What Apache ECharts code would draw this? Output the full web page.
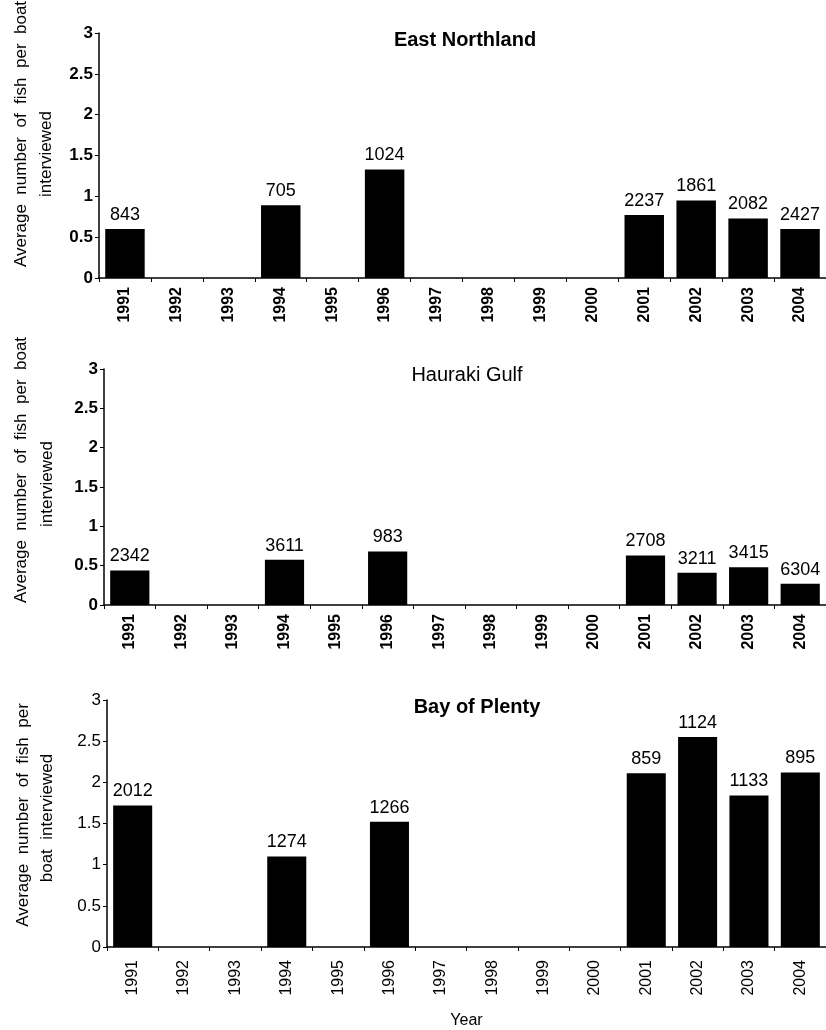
<!DOCTYPE html>
<html>
<head>
<meta charset="utf-8">
<script src="https://cdn.jsdelivr.net/npm/echarts@6/dist/echarts.min.js"></script>
<style>
  html, body { margin: 0; padding: 0; background: #fff; }
  #chart { width: 826px; height: 1030px; }
</style>
</head>
<body>
<div id="chart"></div>
<script>
const years = ["1991", "1992", "1993", "1994", "1995", "1996", "1997", "1998", "1999", "2000", "2001", "2002", "2003", "2004"];

// average fish per boat (null = no survey that year)
const eastNorthland = [0.6, null, null, 0.89, null, 1.33, null, null, null, null, 0.77, 0.95, 0.73, 0.6];
const haurakiGulf = [0.44, null, null, 0.575, null, 0.68, null, null, null, null, 0.63, 0.41, 0.48, 0.27];
const bayOfPlenty = [1.72, null, null, 1.1, null, 1.52, null, null, null, null, 2.11, 2.55, 1.84, 2.12];

// boats interviewed, shown above each bar
const eastNorthlandN = [843, null, null, 705, null, 1024, null, null, null, null, 2237, 1861, 2082, 2427];
const haurakiGulfN = [2342, null, null, 3611, null, 983, null, null, null, null, 2708, 3211, 3415, 6304];
const bayOfPlentyN = [2012, null, null, 1274, null, 1266, null, null, null, null, 859, 1124, 1133, 895];

const yTicks = [0, 0.5, 1, 1.5, 2, 2.5, 3];

const FONT = "'Liberation Sans', Arial, sans-serif";

const panels = [
  {
    title: "East Northland", titleX: 460, titleY: 35, titleWeight: "bold",
    grid: { left: 99, top: 33, width: 732, height: 245 },
    values: eastNorthland, counts: eastNorthlandN, yBold: true, xMargin: 9,
    yName: ["Average  number  of  fish  per  boat", "interviewed"],
    yNamePos: [[21, 134], [46, 154]],
  },
  {
    title: "Hauraki Gulf", titleX: 462, titleY: 370, titleWeight: "normal",
    grid: { left: 104, top: 369, width: 732, height: 236 },
    values: haurakiGulf, counts: haurakiGulfN, yBold: true, xMargin: 9,
    yName: ["Average  number  of  fish  per  boat", "interviewed"],
    yNamePos: [[21, 470], [47, 484]],
  },
  {
    title: "Bay of Plenty", titleX: 472, titleY: 702, titleWeight: "bold",
    grid: { left: 107, top: 700, width: 727, height: 249 },
    values: bayOfPlenty, counts: bayOfPlentyN, yBold: false, xMargin: 13,
    yName: ["Average  number  of  fish  per", "boat  interviewed"],
    yNamePos: [[23, 815], [47, 818]],
  },
];

const chart = echarts.init(document.getElementById("chart"));

const option = {
  animation: false,
  backgroundColor: "#fff",
  textStyle: { fontFamily: FONT },
  title: panels.map((p) => ({
    text: p.title,
    left: p.titleX,
    top: p.titleY,
    textAlign: "center",
    textVerticalAlign: "middle",
    textStyle: { fontFamily: FONT, fontSize: 20, fontWeight: p.titleWeight, color: "#000" },
  })),
  grid: panels.map((p) => p.grid),
  xAxis: panels.map((p, i) => ({
    type: "category",
    gridIndex: i,
    data: years,
    axisLine: { lineStyle: { color: "#000", width: 1.5 } },
    axisTick: { show: true, length: 4, inside: false, lineStyle: { color: "#000" } },
    axisLabel: {
      rotate: 90,
      interval: 0,
      margin: p.xMargin,
      color: "#000",
      fontFamily: FONT,
      fontSize: 16,
      fontWeight: i === 2 ? "normal" : "bold",
    },
    name: i === 2 ? "Year" : "",
    nameLocation: "middle",
    nameGap: 66,
    nameTextStyle: { fontFamily: FONT, fontSize: 16, color: "#000" },
  })),
  yAxis: panels.map((p, i) => ({
    type: "value",
    gridIndex: i,
    min: 0,
    max: 3,
    interval: 0.5,
    splitLine: { show: false },
    axisLine: { show: true, lineStyle: { color: "#000", width: 1.5 } },
    axisTick: { show: true, length: 4, lineStyle: { color: "#000" } },
    axisLabel: {
      color: "#000",
      margin: 6,
      fontFamily: FONT,
      fontSize: 17,
      fontWeight: p.yBold ? "bold" : "normal",
      formatter: (v) => (yTicks.includes(v) ? String(v) : ""),
    },
  })),
  series: panels.map((p, i) => ({
    type: "bar",
    xAxisIndex: i,
    yAxisIndex: i,
    data: p.values,
    barCategoryGap: "24%",
    itemStyle: { color: "#000" },
    label: {
      show: true,
      position: "top",
      distance: 5,
      color: "#000",
      fontFamily: FONT,
      fontSize: 18,
      formatter: (params) => {
        const n = p.counts[params.dataIndex];
        return n === null ? "" : String(n);
      },
    },
  })),
  graphic: panels.flatMap((p) =>
    p.yName.map((line, k) => ({
      type: "text",
      x: p.yNamePos[k][0],
      y: p.yNamePos[k][1],
      rotation: Math.PI / 2,
      style: {
        text: line,
        fontFamily: FONT,
        fontSize: 17,
        fill: "#000",
        align: "center",
        verticalAlign: "middle",
      },
    })),
  ),
};

chart.setOption(option);
</script>
</body>
</html>
